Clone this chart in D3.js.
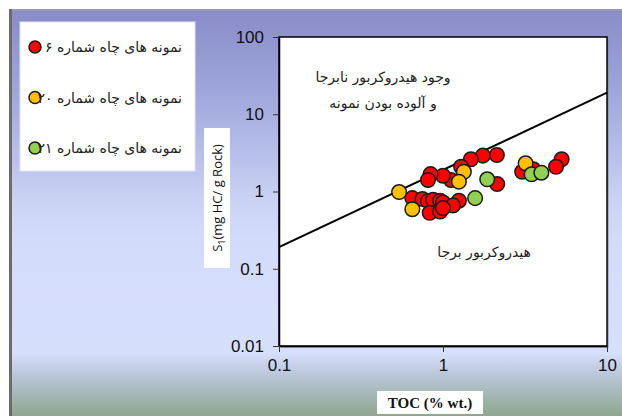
<!DOCTYPE html>
<html><head><meta charset="utf-8">
<script src="https://d3js.org/d3.v7.min.js"></script>
<style>html,body{margin:0;padding:0;background:#fff;}svg{display:block;}</style>
</head><body>
<svg id="c" width="622" height="416"></svg>
<script>
// ---- data ----
const well6TOC = [5.29,4.89,3.04,3.55,2.13,1.75,1.48,1.29,1.12,1.0,0.84,0.81,2.14,0.65,0.75,0.81,0.87,0.96,1.0,1.25,1.15,0.83,0.96,1.0];
const well6S1  = [2.61,2.09,1.80,1.94,2.97,2.91,2.61,2.09,1.41,1.60,1.68,1.41,1.25,0.82,0.80,0.75,0.78,0.76,0.72,0.76,0.66,0.53,0.55,0.61];
const well20TOC = [3.19,1.34,1.25,0.54,0.65];
const well20S1  = [2.32,1.80,1.34,0.985,0.59];
const well21TOC = [3.47,3.98,1.86,1.57];
const well21S1  = [1.67,1.75,1.44,0.82];
const lineTOC = [0.1, 10];
const lineS1 = [0.19, 19];
const xTicks = [0.1, 1, 10];
const yTicks = [0.01, 0.1, 1, 10, 100];
const seriesNames = ["نمونه های چاه شماره ۶", "نمونه های چاه شماره ۲۰", "نمونه های چاه شماره ۲۱"];
const seriesColors = ["#ff0000", "#ffc000", "#92d050"];
const upperText = ["وجود هیدروکربور نابرجا", "و آلوده بودن نمونه"];
const lowerText = "هیدروکربور برجا";
const xTitle = "TOC (% wt.)";

const svg = d3.select("#c");
const defs = svg.append("defs");
const g = defs.append("linearGradient").attr("id","bg").attr("x1",0).attr("y1",0).attr("x2",0).attr("y2",1);
[[0,"#898cc7"],[0.2,"#9ea6dc"],[0.48,"#ccd4f6"],[0.56,"#d3dbfa"],[0.845,"#d6dffc"],[0.9,"#b9c6d8"],[1,"#8ea78e"]]
  .forEach(([o,c])=>g.append("stop").attr("offset",o).attr("stop-color",c));

svg.append("rect").attr("x",10).attr("y",10).attr("width",612).attr("height",406).attr("fill","url(#bg)");
svg.append("rect").attr("x",9).attr("y",9).attr("width",613).attr("height",2).attr("fill","#9a9aae");
svg.append("rect").attr("x",9).attr("y",9).attr("width",3).attr("height",407).attr("fill","#6b6b6b");

const x = d3.scaleLog().domain([0.1,10]).range([279,607]);
const y = d3.scaleLog().domain([0.01,100]).range([346,37]);

// plot area
svg.append("rect").attr("x",x(0.1)+2).attr("y",y(100)+2).attr("width",x(10)-x(0.1)).attr("height",y(0.01)-y(100)).attr("fill","#888").attr("opacity",0.5);
svg.append("rect").attr("x",x(0.1)).attr("y",y(100)).attr("width",x(10)-x(0.1)).attr("height",y(0.01)-y(100))
  .attr("fill","#fff").attr("stroke","#000").attr("stroke-width",1.5);

function minors(lo,hi){const r=[];for(let p=lo;p<hi;p++){for(let k=2;k<=9;k++)r.push(k*Math.pow(10,p));}return r;}
const fmt = d=>String(d);

const yAx = svg.append("g").attr("transform",`translate(${x(0.1)},0)`);
yAx.call(d3.axisLeft(y).tickValues(minors(-2,2)).tickFormat("").tickSize(4).tickSizeOuter(0));
yAx.call(d3.axisLeft(y).tickValues(yTicks).tickFormat(fmt).tickSize(6).tickSizeOuter(0).tickPadding(9));
const xAx = svg.append("g").attr("transform",`translate(0,${y(0.01)})`);
xAx.call(d3.axisBottom(x).tickValues(minors(-1,1)).tickFormat("").tickSize(5).tickSizeOuter(0));
xAx.call(d3.axisBottom(x).tickValues(xTicks).tickFormat(fmt).tickSize(6).tickSizeOuter(0).tickPadding(7));
svg.selectAll(".tick text").attr("font-family","'Liberation Sans', Arial, sans-serif").attr("font-size",17).attr("fill","#111");
svg.selectAll(".domain").attr("stroke","#000").attr("stroke-width",1.5);
svg.selectAll(".tick line").attr("stroke","#333");

// line
svg.append("path").datum(lineTOC.map((t,i)=>[t,lineS1[i]]))
  .attr("d",d3.line().x(d=>x(d[0])).y(d=>y(d[1])))
  .attr("stroke","#000").attr("stroke-width",2).attr("fill","none");

// points
const series = [[well6TOC,well6S1],[well20TOC,well20S1],[well21TOC,well21S1]];
series.forEach(([tx,sy],i)=>{
  svg.append("g").selectAll("circle").data(tx.map((t,j)=>[t,sy[j]])).join("circle")
    .attr("cx",d=>x(d[0])).attr("cy",d=>y(d[1])).attr("r",7.3)
    .attr("fill",seriesColors[i]).attr("stroke","#1a1a1a").attr("stroke-width",1.5);
});

// annotations
const fa = "'DejaVu Sans', 'Noto Sans', sans-serif";
upperText.forEach((t,i)=>svg.append("text").attr("x",383).attr("y",82+i*26).attr("text-anchor","middle")
  .attr("font-family",fa).attr("font-size",14).attr("fill","#222").text(t));
svg.append("text").attr("x",484).attr("y",257).attr("text-anchor","middle")
  .attr("font-family",fa).attr("font-size",14).attr("fill","#222").text(lowerText);

// legend
svg.append("rect").attr("x",20).attr("y",22).attr("width",175).attr("height",149).attr("fill","#fff").attr("stroke","#e4e4ec");
seriesNames.forEach((n,i)=>{
  const cy = 47 + i*50.5;
  svg.append("circle").attr("cx",35).attr("cy",cy).attr("r",6).attr("fill",seriesColors[i]).attr("stroke","#1a1a1a").attr("stroke-width",1.5);
  svg.append("text").attr("x",182).attr("y",cy+5).attr("text-anchor","end")
    .attr("font-family",fa).attr("font-size",14).attr("fill","#222").text(n);
});

// y title
svg.append("rect").attr("x",204).attr("y",128).attr("width",26).attr("height",140).attr("fill","#fff");
const yt = svg.append("text").attr("transform","translate(222,198) rotate(-90)").attr("text-anchor","middle")
  .attr("font-family","'Open Sans', 'Noto Sans', sans-serif").attr("font-size",13).attr("fill","#111");
yt.append("tspan").text("S");
yt.append("tspan").attr("font-size",9).attr("dy",3).text("1");
yt.append("tspan").attr("dy",-3).text("(mg HC/ g Rock)");

// x title
svg.append("rect").attr("x",377).attr("y",391).attr("width",106).attr("height",23).attr("fill","#fff");
svg.append("text").attr("x",430).attr("y",408).attr("text-anchor","middle")
  .attr("font-family","'Liberation Serif', 'Times New Roman', serif").attr("font-weight","bold").attr("font-size",15).attr("fill","#111").text(xTitle);
</script>
</body></html>
